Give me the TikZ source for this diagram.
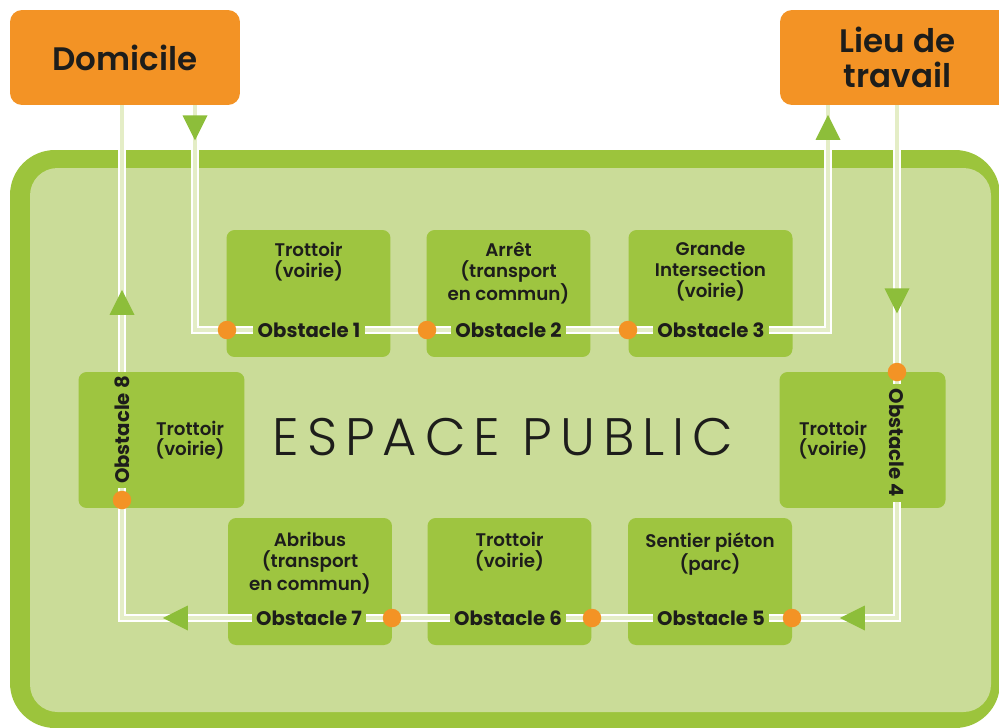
\documentclass[tikz,border=0pt]{standalone}
\usepackage{fontspec}
\setmainfont{Poppins}
\newfontfamily\thinfont{Poppins Light}
\newfontfamily\semifont{Poppins SemiBold}
\usetikzlibrary{positioning,decorations.markings}
\definecolor{placeorange}{HTML}{F39325}
\definecolor{framegreen}{HTML}{9CC43C}
\definecolor{fieldgreen}{HTML}{CADC98}
\definecolor{blockgreen}{HTML}{9EC540}
\definecolor{tipgreen}{HTML}{8DBE3A}
\definecolor{roadmid}{HTML}{E4EDC6}
\definecolor{ink}{HTML}{1D1D1B}

\begin{document}
\begin{tikzpicture}[x=0.02cm, y=-0.02cm,
  place/.style={fill=placeorange, rounded corners=0.24cm, minimum width=4.6cm,
                minimum height=1.9cm, align=center, text=ink,
                font=\semifont\fontsize{18.5}{19.5}\selectfont},
  block/.style={fill=blockgreen, rounded corners=0.16cm, minimum width=3.28cm,
                minimum height=2.54cm},
  side block/.style={block, minimum width=3.32cm, minimum height=2.72cm},
  block text/.style={align=center, text=ink, inner sep=0pt,
                     font=\semifont\fontsize{10.4}{11.8}\selectfont},
  obstacle/.style={fill=blockgreen, text=ink, inner sep=2.5pt,
                   font=\bfseries\fontsize{11.2}{12}\selectfont},
  stop/.style={circle, fill=placeorange, minimum size=0.37cm, inner sep=0pt},
  road/.style={draw=white, line width=1.3pt, double=roadmid, double distance=2.2pt},
  mid tip/.style={postaction={decorate, decoration={markings,
      mark=at position #1 with {\fill[tipgreen] (0,0) -- (-0.5cm,0.25cm) -- (-0.5cm,-0.25cm) -- cycle;}}}}
]
  \useasboundingbox (0,0) rectangle (999,727);
  \clip (0,0) rectangle (999,727);

  % public space frame
  \fill[framegreen, rounded corners=0.9cm] (10,150) rectangle (1000,728);
  \fill[fieldgreen, rounded corners=0.55cm] (30,168) rectangle (991,712);
  \node[text=ink, font=\thinfont\addfontfeature{LetterSpace=15}\fontsize{30}{30}\selectfont]
    (espace) at (503,437) {ESPACE PUBLIC};

  % start and end places
  \node[place] (home) at (125,57.5) {Domicile};
  \node[place, minimum width=4.7cm] (work) at (897.5,57.5) {Lieu de\\travail};

  % street blocks
  \node[block] (b1) at (308.5,293.5) {};
  \node[block] (b2) at (508.5,293.5) {};
  \node[block] (b3) at (710.5,293.5) {};
  \node[side block] (b4) at (862.5,440) {};
  \node[block] (b5) at (710,581.5) {};
  \node[block] (b6) at (509.5,581.5) {};
  \node[block] (b7) at (310,581.5) {};
  \node[side block] (b8) at (161.5,440) {};

  \node[block text, anchor=north] (t1) at (308.5,242) {Trottoir\\(voirie)};
  \node[block text, anchor=north] (t2) at (508.5,242) {Arrêt\\(transport\\en commun)};
  \node[block text, anchor=north] (t3) at (710.5,242) {Grande\\Intersection\\(voirie)};
  \node[block text] (t4) at (833,440) {Trottoir\\(voirie)};
  \node[block text, anchor=north] (t5) at (710,532) {Sentier piéton\\(parc)};
  \node[block text, anchor=north] (t6) at (509.5,532) {Trottoir\\(voirie)};
  \node[block text, anchor=north] (t7) at (310,532) {Abribus\\(transport\\en commun)};
  \node[block text] (t8) at (190,440) {Trottoir\\(voirie)};

  % the two walks
  \coordinate (in1) at (195,330);
  \coordinate (out1) at (828,330);
  \coordinate (in2) at (897,618);
  \coordinate (out2) at (122,618);
  \draw[road, mid tip=0.7cm, mid tip=21.46cm]
    (home.south -| in1) -- (in1) -- (out1) -- (work.south -| out1);
  \draw[road, mid tip=4.16cm, mid tip=11.4cm, mid tip=24.94cm, mid tip=32.32cm]
    (work.south -| in2) -- (in2) -- (out2) -- (home.south -| out2);

  \node[obstacle] (o1) at (309,330) {Obstacle 1};
  \node[obstacle] (o2) at (508.5,330) {Obstacle 2};
  \node[obstacle] (o3) at (711,330) {Obstacle 3};
  \node[obstacle, rotate=-90] (o4) at (897,443) {Obstacle 4};
  \node[obstacle] (o5) at (711,618) {Obstacle 5};
  \node[obstacle] (o6) at (508,618) {Obstacle 6};
  \node[obstacle] (o7) at (309,618) {Obstacle 7};
  \node[obstacle, rotate=90] (o8) at (122,430) {Obstacle 8};

  \node[stop] (s1) at (227,330) {};
  \node[stop] (s2) at (427,330) {};
  \node[stop] (s3) at (628,330) {};
  \node[stop] (s4) at (897,372) {};
  \node[stop] (s5) at (792,618) {};
  \node[stop] (s6) at (592,618) {};
  \node[stop] (s7) at (392,618) {};
  \node[stop] (s8) at (122,500) {};
\end{tikzpicture}
\end{document}
